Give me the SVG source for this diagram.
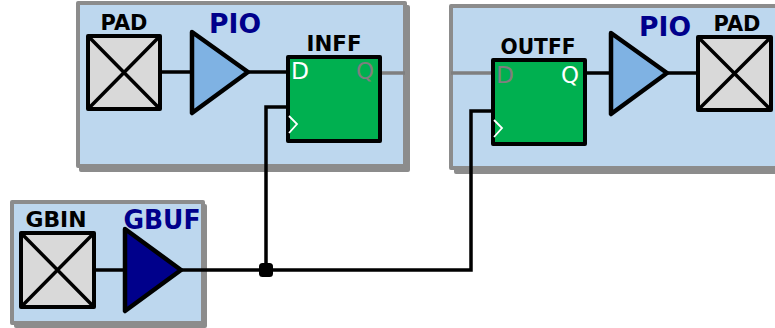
<svg xmlns="http://www.w3.org/2000/svg" width="775" height="328" viewBox="0 0 775 328">
<style>
.panel{fill:#bdd7ee;stroke:#8c8c8c;stroke-width:4;stroke-linejoin:round}
.shadow{fill:#8c8c8c;stroke:#8c8c8c;stroke-width:4;stroke-linejoin:round}
.pad{fill:#d9d9d9;stroke:#000;stroke-width:4;stroke-linejoin:round}
.x{stroke:#000;stroke-width:3.5;fill:none}
.tri{fill:#7fb2e3;stroke:#000;stroke-width:4.5;stroke-linejoin:round}
.ff{fill:#00b050;stroke:#000;stroke-width:4;stroke-linejoin:round}
.w{stroke:#000;stroke-width:3.5;fill:none;stroke-linejoin:miter}
.g{stroke:#7f7f7f;stroke-width:3.5;fill:none}
.clk{stroke:#fff;stroke-width:1.8;fill:none}
text{font-family:"DejaVu Sans",sans-serif}
.lbl{font-size:22px;font-weight:bold;fill:#000}
.blue{font-size:27px;font-weight:bold;fill:#00008b}
.pin{font-size:23px}
</style>
<g id="panel-in"><rect class="shadow" x="81" y="7" width="327" height="163"/><rect class="panel" x="78" y="3" width="327" height="163"/></g>
<g id="panel-out"><rect class="shadow" x="456" y="11" width="325" height="161"/><rect class="panel" x="451" y="6" width="330" height="162"/></g>
<g id="panel-gbuf"><rect class="shadow" x="16" y="206" width="189" height="120"/><rect class="panel" x="12" y="202" width="191" height="121"/></g>
<g id="connectors">
<path class="w" d="M160 72H192M248 72H288M94 270H125M181 270H471V111H493M266 270V107H288M585 73H611M667 73H698"/>
<path class="g" d="M380 73H405M451 73H493"/>
<rect x="259" y="263" width="14" height="14" rx="3.5" fill="#000"/>
</g>
<g id="pad-in"><rect class="pad" x="88" y="36" width="72" height="73"/><path class="x" d="M88 36L160 109M160 36L88 109"/><text class="lbl" x="124" y="30" text-anchor="middle" textLength="47" lengthAdjust="spacingAndGlyphs">PAD</text></g>
<g id="pio-in"><path class="tri" d="M192 32L248 72L192 113Z"/><text class="blue" x="235" y="33" text-anchor="middle" textLength="52" lengthAdjust="spacingAndGlyphs">PIO</text></g>
<g id="inff"><rect class="ff" x="288" y="57" width="92" height="84"/><path class="clk" d="M289 116L297 124L289 133"/><text class="pin" x="300" y="79" text-anchor="middle" fill="#fff" textLength="18" lengthAdjust="spacingAndGlyphs">D</text><text class="pin" x="365" y="79" text-anchor="middle" fill="#7f7f7f" textLength="18" lengthAdjust="spacingAndGlyphs">Q</text><text class="lbl" x="334" y="51" text-anchor="middle" textLength="55" lengthAdjust="spacingAndGlyphs">INFF</text></g>
<g id="outff"><rect class="ff" x="493" y="60" width="92" height="84"/><path class="clk" d="M494 120L502 128L494 137"/><text class="pin" x="505" y="83" text-anchor="middle" fill="#7f7f7f" textLength="18" lengthAdjust="spacingAndGlyphs">D</text><text class="pin" x="570" y="83" text-anchor="middle" fill="#fff" textLength="18" lengthAdjust="spacingAndGlyphs">Q</text><text class="lbl" x="538" y="54" text-anchor="middle" textLength="75" lengthAdjust="spacingAndGlyphs">OUTFF</text></g>
<g id="pio-out"><path class="tri" d="M611 33L667 73L611 114Z"/><text class="blue" x="665" y="36" text-anchor="middle" textLength="52" lengthAdjust="spacingAndGlyphs">PIO</text></g>
<g id="pad-out"><rect class="pad" x="698" y="37" width="73" height="73"/><path class="x" d="M698 37L771 110M771 37L698 110"/><text class="lbl" x="737" y="31" text-anchor="middle" textLength="47" lengthAdjust="spacingAndGlyphs">PAD</text></g>
<g id="gbin"><rect class="pad" x="21" y="233" width="73" height="74"/><path class="x" d="M21 233L94 307M94 233L21 307"/><text class="lbl" x="56" y="227" text-anchor="middle" textLength="61" lengthAdjust="spacingAndGlyphs">GBIN</text></g>
<g id="gbuf"><path class="tri" style="fill:#00008b" d="M125 229L181 270L125 311Z"/><text class="blue" x="162" y="229" text-anchor="middle" textLength="77" lengthAdjust="spacingAndGlyphs">GBUF</text></g>
</svg>
